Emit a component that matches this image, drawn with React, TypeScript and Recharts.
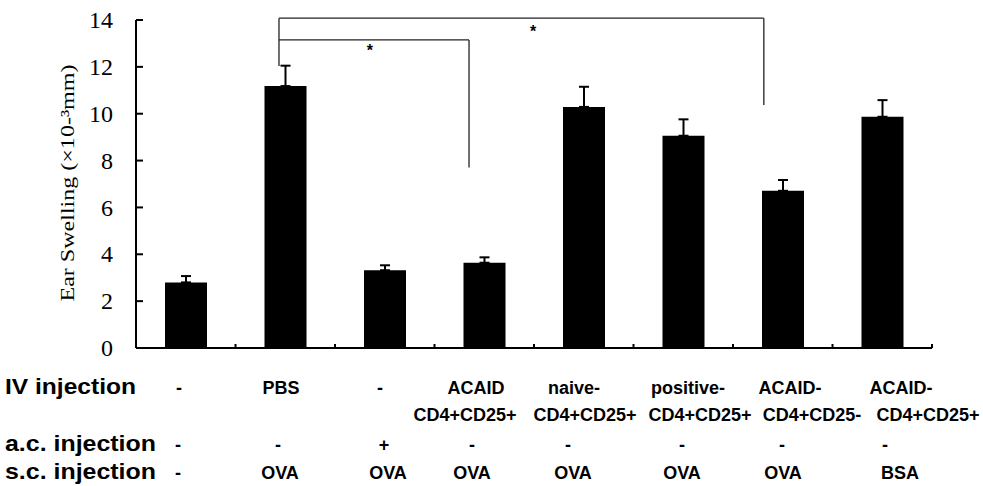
import React from 'react';
import { BarChart, Bar, XAxis, YAxis, ErrorBar, ReferenceLine, ReferenceDot } from 'recharts';

// ---- data ----
const groups = ['G1', 'G2', 'G3', 'G4', 'G5', 'G6', 'G7', 'G8'];
const swelling = [2.8, 11.18, 3.32, 3.64, 10.29, 9.06, 6.71, 9.87];
const upperError = [0.27, 0.87, 0.21, 0.23, 0.86, 0.7, 0.46, 0.71];
const yTicks = [0, 2, 4, 6, 8, 10, 12, 14];
const xBoundaries = [0, 1, 2, 3, 4, 5, 6, 7, 8];

const rowLabels = ['IV injection', 'a.c. injection', 's.c. injection'];
const ivLine1 = ['-', 'PBS', '-', 'ACAID', 'naive-', 'positive-', 'ACAID-', 'ACAID-'];
const ivLine2 = ['', '', '', 'CD4+CD25+', 'CD4+CD25+', 'CD4+CD25+', 'CD4+CD25-', 'CD4+CD25+'];
const acRow = ['-', '-', '+', '-', '-', '-', '-', '-'];
const scRow = ['-', 'OVA', 'OVA', 'OVA', 'OVA', 'OVA', 'OVA', 'BSA'];

const yLabel = 'Ear Swelling (×10-³mm)';

// ---- layout (not data) ----
const W = 983;
const H = 486;
const ivX1 = [179, 281, 380, 476, 574, 688, 790, 901];
const ivX2 = [0, 0, 0, 465, 585, 700, 812, 928];
const acX = [178, 278, 384, 472, 568, 682, 782, 885];
const scX = [178, 280, 388, 472, 573, 682, 783, 900];
const rowBase = { iv: 394, iv2: 421, ac: 451, sc: 479 };
const labelWidths = [131, 151, 151];

const chartData = groups.map((g, i) => ({
  x: i + 0.5,
  name: g,
  value: swelling[i],
  err: [0, upperError[i]],
}));

const sans = '"Liberation Sans", Arial, sans-serif';
const serif = '"Liberation Serif", "Times New Roman", serif';

const YTick = (p: any) => {
  const { x, y, payload } = p;
  return (
    <g>
      <text x={x} y={y} dy="0.34em" textAnchor="end" fontFamily={serif} fontSize={24} fill="#000">
        {payload.value}
      </text>
      <line x1={x + 23} x2={x + 30} y1={y} y2={y} stroke="#000" strokeWidth={2} />
    </g>
  );
};

const XTick = (p: any) => {
  const { x, y, payload } = p;
  if (payload.value === 0) return <g />;
  return <line x1={x} x2={x} y1={y} y2={y - 4} stroke="#000" strokeWidth={2} />;
};

const Star = (p: any) => (
  <text x={p.cx} y={p.cy} dy={9} textAnchor="middle" fontFamily={sans} fontWeight="bold" fontSize={16} fill="#000">
    *
  </text>
);

const bracketStroke = '#222';

export default function App() {
  const small = { fontFamily: sans, fontWeight: 'bold' as const, fontSize: 18, fill: '#000', textAnchor: 'middle' as const };
  const big = { fontFamily: sans, fontWeight: 'bold' as const, fontSize: 22, fill: '#000' };
  return (
    <div style={{ position: 'absolute', left: 0, top: 0, width: W, height: H, background: '#fff' }}>
      <BarChart width={W} height={H} data={chartData} margin={{ top: 20, right: 51, left: 0, bottom: 108 }}>
        <XAxis
          type="number"
          dataKey="x"
          domain={[0, 8]}
          ticks={xBoundaries}
          interval={0}
          height={30}
          tickSize={0}
          tickMargin={0}
          tick={<XTick />}
          axisLine={{ stroke: '#000', strokeWidth: 2 }}
          tickLine={false}
        />
        <YAxis
          type="number"
          domain={[0, 14]}
          ticks={yTicks}
          interval={0}
          width={136}
          tickSize={0}
          tickMargin={23}
          tick={<YTick />}
          axisLine={{ stroke: '#000', strokeWidth: 2 }}
          tickLine={false}
        />
        <Bar dataKey="value" fill="#000" barSize={42} isAnimationActive={false}>
          <ErrorBar dataKey="err" direction="y" width={5} stroke="#000" strokeWidth={2} isAnimationActive={false} />
        </Bar>
        <ReferenceLine segment={[{ x: 1.437, y: 14.08 }, { x: 6.31, y: 14.08 }]} stroke={bracketStroke} strokeWidth={1.3} ifOverflow="visible" />
        <ReferenceLine segment={[{ x: 6.31, y: 14.08 }, { x: 6.31, y: 10.37 }]} stroke={bracketStroke} strokeWidth={1.3} ifOverflow="visible" />
        <ReferenceLine segment={[{ x: 1.437, y: 14.08 }, { x: 1.437, y: 12.04 }]} stroke={bracketStroke} strokeWidth={1.3} ifOverflow="visible" />
        <ReferenceLine segment={[{ x: 1.437, y: 13.15 }, { x: 3.347, y: 13.15 }]} stroke={bracketStroke} strokeWidth={1.3} ifOverflow="visible" />
        <ReferenceLine segment={[{ x: 3.347, y: 13.15 }, { x: 3.347, y: 7.7 }]} stroke={bracketStroke} strokeWidth={1.3} ifOverflow="visible" />
        <ReferenceDot x={2.35} y={12.85} r={0} shape={<Star />} ifOverflow="visible" />
        <ReferenceDot x={3.99} y={13.66} r={0} shape={<Star />} ifOverflow="visible" />
      </BarChart>
      <svg width={W} height={H} style={{ position: 'absolute', left: 0, top: 0, pointerEvents: 'none' }}>
        <text
          x={67}
          y={183}
          transform="rotate(-90 67 183)"
          textAnchor="middle"
          dy="0.35em"
          fontFamily={serif}
          fontSize={19}
          textLength={237}
          lengthAdjust="spacingAndGlyphs"
          fill="#000"
        >
          {yLabel}
        </text>
        {rowLabels.map((l, i) => (
          <text
            key={l}
            x={5}
            y={[rowBase.iv, rowBase.ac, rowBase.sc][i]}
            {...big}
            textLength={labelWidths[i]}
            lengthAdjust="spacingAndGlyphs"
          >
            {l}
          </text>
        ))}
        {ivLine1.map((t, i) => (
          <text key={'a' + i} x={ivX1[i]} y={rowBase.iv} {...small}>{t}</text>
        ))}
        {ivLine2.map((t, i) =>
          t ? <text key={'b' + i} x={ivX2[i]} y={rowBase.iv2} {...small}>{t}</text> : null
        )}
        {acRow.map((t, i) => (
          <text key={'c' + i} x={acX[i]} y={rowBase.ac} {...small}>{t}</text>
        ))}
        {scRow.map((t, i) => (
          <text key={'d' + i} x={scX[i]} y={rowBase.sc} {...small}>{t}</text>
        ))}
      </svg>
    </div>
  );
}
